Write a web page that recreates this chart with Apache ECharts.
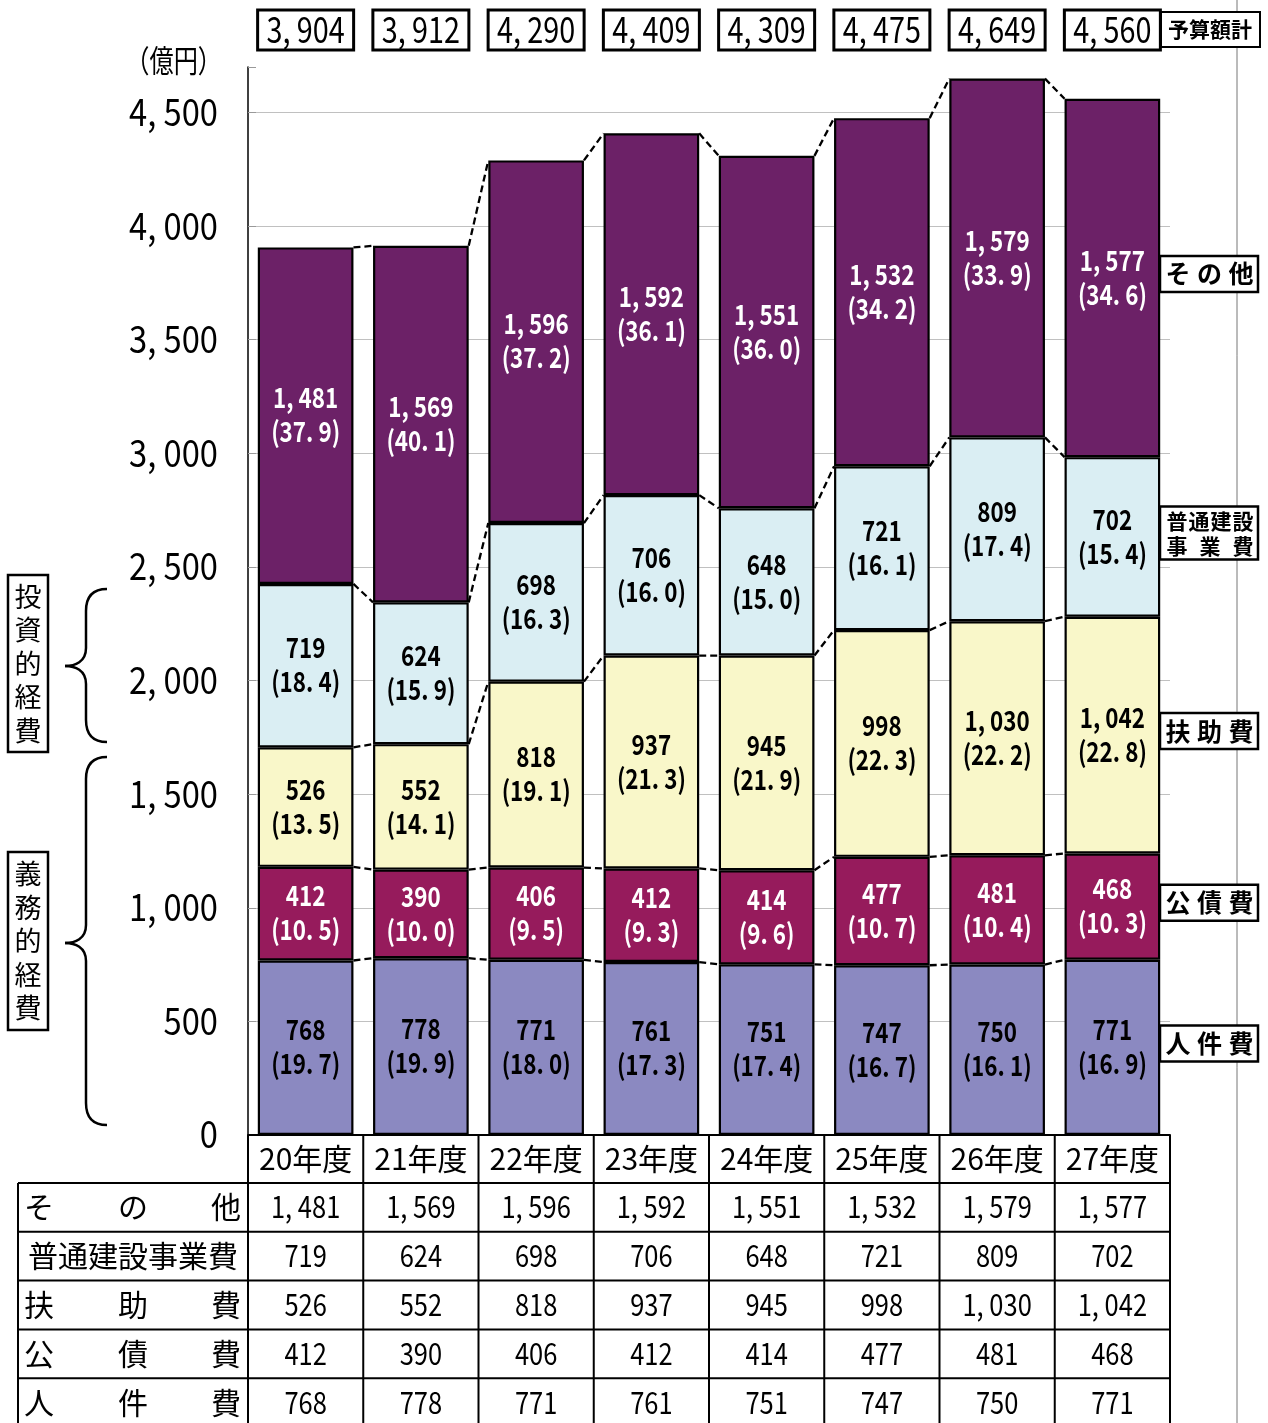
<!DOCTYPE html>
<html><head><meta charset="utf-8">
<script src="https://cdn.jsdelivr.net/npm/echarts@6/dist/echarts.min.js"></script>
<style>html,body{margin:0;padding:0;background:#fff}#c{width:1268px;height:1423px}</style>
</head><body><div id="c"></div>
<script>
const categories = ['20年度','21年度','22年度','23年度','24年度','25年度','26年度','27年度'];
const jinkenhi = [768,778,771,761,751,747,750,771];
const jinkenhiPct = [19.7,19.9,18.0,17.3,17.4,16.7,16.1,16.9];
const kousaihi = [412,390,406,412,414,477,481,468];
const kousaihiPct = [10.5,10.0,9.5,9.3,9.6,10.7,10.4,10.3];
const fujohi = [526,552,818,937,945,998,1030,1042];
const fujohiPct = [13.5,14.1,19.1,21.3,21.9,22.3,22.2,22.8];
const futsuu = [719,624,698,706,648,721,809,702];
const futsuuPct = [18.4,15.9,16.3,16.0,15.0,16.1,17.4,15.4];
const sonota = [1481,1569,1596,1592,1551,1532,1579,1577];
const sonotaPct = [37.9,40.1,37.2,36.1,36.0,34.2,33.9,34.6];
const totals = [3904,3912,4290,4409,4309,4475,4649,4560];
const yTicks = [0,500,1000,1500,2000,2500,3000,3500,4000,4500];
const seriesNames = ['人件費','公債費','扶助費','普通建設事業費','その他'];
const legendChars = [['人','件','費'],['公','債','費'],['扶','助','費'],null,['そ','の','他']];
const tableRowLabels = [['そ','の','他'],['普通建設事業費'],['扶','助','費'],['公','債','費'],['人','件','費']];
const yMax = 4700, yInterval = 500;

const vals = [jinkenhi, kousaihi, fujohi, futsuu, sonota];
const pcts = [jinkenhiPct, kousaihiPct, fujohiPct, futsuuPct, sonotaPct];
const colors = ['#8B89C1','#961B5C','#F9F7C9','#DAEEF3','#6C2167'];
const labelColors = ['#000','#fff','#000','#000','#fff'];
const JFONT = "'Noto Sans CJK JP',sans-serif";
function fmt(v){ const s = String(v); return s.length > 3 ? s.slice(0, s.length-3) + ', ' + s.slice(-3) : s; }
function fmtPct(p){ return '(' + p.toFixed(1).replace('.', '. ') + ')'; }

const cum = [];
let run = categories.map(() => 0);
vals.forEach(a => { run = run.map((r, i) => r + a[i]); cum.push(run.slice()); });
const connData = [];
cum.forEach(c => { for (let i = 0; i < categories.length - 1; i++) connData.push([i, c[i], c[i+1]]); });
const labelData = [];
vals.forEach((a, k) => a.forEach((v, i) => labelData.push([i, (k ? cum[k-1][i] : 0) + v / 2, v, pcts[k][i], k])));
const BW = 0.83;

const chart = echarts.init(document.getElementById('c'));
const series = vals.map((a, k) => ({
  name: seriesNames[k], type: 'bar', stack: 'total', barWidth: (BW*100)+'%', data: a,
  itemStyle: { color: colors[k], borderColor: '#000', borderWidth: 2.2 }
}));
series.push({
  type: 'custom', data: connData, encode: { x: 0, y: 1 }, z: 5, silent: true,
  renderItem: (params, api) => {
    const i = api.value(0);
    const p1 = api.coord([i, api.value(1)]);
    const p2 = api.coord([i + 1, api.value(2)]);
    const hw = api.size([1, 0])[0] * BW / 2;
    return { type: 'line', shape: { x1: p1[0] + hw, y1: p1[1], x2: p2[0] - hw, y2: p2[1] },
      style: { stroke: '#000', lineWidth: 2.3, lineDash: [7, 4] } };
  }
});
series.push({
  type: 'custom', data: labelData, encode: { x: 0, y: 1 }, z: 6, silent: true,
  renderItem: (params, api) => {
    const p = api.coord([api.value(0), api.value(1)]);
    const k = api.value(4);
    return { type: 'text', x: p[0], y: p[1] - 1, scaleX: 0.8,
      style: { text: fmt(api.value(2)) + '\n' + fmtPct(api.value(3)), fill: labelColors[k],
        fontFamily: JFONT, fontWeight: 'bold', fontSize: 28, lineHeight: 34, align: 'center', verticalAlign: 'middle' } };
  }
});

chart.setOption({
  animation: false,
  grid: { left: 248, right: 98, top: 67, bottom: 288 },
  xAxis: { type: 'category', data: categories, axisLabel: { show: false }, axisTick: { show: false },
    axisLine: { lineStyle: { color: '#000', width: 2 } } },
  yAxis: { type: 'value', min: 0, max: yMax, interval: yInterval,
    axisLine: { show: true, lineStyle: { color: '#000', width: 1.5 } },
    axisTick: { show: true, inside: true, length: 8, lineStyle: { color: '#999' } },
    splitLine: { show: true, showMaxLine: false, lineStyle: { color: '#C0C0C0', width: 1 } },
    axisLabel: { show: false } },
  series
});

const g = [];
const cx = categories.map((c, i) => chart.convertToPixel({ xAxisIndex: 0 }, i));
const cw = cx[1] - cx[0];
const yPix = v => chart.convertToPixel({ yAxisIndex: 0 }, v);
const y0 = yPix(0);
const left0 = cx[0] - cw / 2, right0 = cx[cx.length - 1] + cw / 2;
const T = (x, y, text, font, opt) => g.push(Object.assign({ type: 'text', x, y, style: Object.assign({ text, font, fill: '#000', align: 'center', verticalAlign: 'middle' }, (opt && opt.style) || {}) }, (opt && opt.el) || {}));

// right border line
g.push({ type: 'line', shape: { x1: 1237, y1: 0, x2: 1237, y2: 1423 }, style: { stroke: '#777', lineWidth: 1 } });

// y tick labels
yTicks.forEach(v => T(218, yPix(v) - 1, fmt(v), '38px ' + JFONT, { style: { align: 'right' }, el: { scaleX: 0.86 } }));
T(222, 60, '（億円）', '31px ' + JFONT, { style: { align: 'right' }, el: { scaleX: 0.78 } });

// totals boxes
totals.forEach((t, i) => {
  g.push({ type: 'rect', shape: { x: cx[i] - 48, y: 10, width: 96, height: 40 }, style: { fill: '#fff', stroke: '#000', lineWidth: 3 }, z: 10 });
  T(cx[i], 29.5, fmt(t), '36px ' + JFONT, { el: { scaleX: 0.8, z: 11 } });
});
g.push({ type: 'rect', shape: { x: 1161, y: 12, width: 99, height: 35 }, style: { fill: '#fff', stroke: '#000', lineWidth: 2 }, z: 10 });
T(1210, 29.5, '予算額計', 'bold 21px ' + JFONT, { el: { z: 11 } });

// right legend boxes at last bar segment centers
const last = categories.length - 1;
vals.forEach((a, k) => {
  const base = k === 0 ? 0 : cum[k - 1][last];
  const yc = yPix(base + a[last] / 2) - 4;
  const two = !legendChars[k];
  const h = two ? 53 : 36;
  g.push({ type: 'rect', shape: { x: 1160, y: yc - h / 2, width: 98, height: h }, style: { fill: '#fff', stroke: '#000', lineWidth: 2.5 }, z: 10 });
  if (two) {
    ['普','通','建','設'].forEach((ch, j) => T(1177 + j * 22, yc - 12, ch, 'bold 21px ' + JFONT, { el: { z: 11 } }));
    ['事','業','費'].forEach((ch, j) => T(1177 + j * 33, yc + 13, ch, 'bold 21px ' + JFONT, { el: { z: 11 } }));
  } else {
    legendChars[k].forEach((ch, j) => T(1178 + j * 31.5, yc, ch, 'bold 25px ' + JFONT, { el: { z: 11 } }));
  }
});

// braces
function brace(xe, xv, xp, yt, yp, yb) {
  const S = { fill: null, stroke: '#000', lineWidth: 2.5 };
  const r = 22;
  g.push({ type: 'bezierCurve', shape: { x1: xe, y1: yt, cpx1: xv + 6, cpy1: yt, cpx2: xv, cpy2: yt + 8, x2: xv, y2: yt + r }, style: S });
  g.push({ type: 'line', shape: { x1: xv, y1: yt + r, x2: xv, y2: yp - 18 }, style: S });
  g.push({ type: 'bezierCurve', shape: { x1: xv, y1: yp - 18, cpx1: xv, cpy1: yp - 4, cpx2: xp + 10, cpy2: yp, x2: xp, y2: yp }, style: S });
  g.push({ type: 'bezierCurve', shape: { x1: xp, y1: yp, cpx1: xp + 10, cpy1: yp, cpx2: xv, cpy2: yp + 4, x2: xv, y2: yp + 18 }, style: S });
  g.push({ type: 'line', shape: { x1: xv, y1: yp + 18, x2: xv, y2: yb - r }, style: S });
  g.push({ type: 'bezierCurve', shape: { x1: xv, y1: yb - r, cpx1: xv, cpy1: yb - 8, cpx2: xv + 6, cpy2: yb, x2: xe, y2: yb }, style: S });
}
brace(107, 86, 65, 589, 666, 742);
brace(107, 86, 65, 757, 943, 1125);
[['投資的経費', 575, 752], ['義務的経費', 852, 1030]].forEach(([t, ya, yb]) => {
  g.push({ type: 'rect', shape: { x: 8, y: ya, width: 40, height: yb - ya }, style: { fill: '#fff', stroke: '#000', lineWidth: 2.5 } });
  t.split('').forEach((ch, j) => T(28, (ya + yb) / 2 + (j - 2) * 33.5, ch, '27px ' + JFONT));
});

// table
const hdrTop = y0, hdrBot = y0 + 48, rowH = 48.8;
const tblLeft = 18, tblBottom = 1440;
const tableVals = [sonota, futsuu, fujohi, kousaihi, jinkenhi];
const L = (x1, y1, x2, y2) => g.push({ type: 'line', shape: { x1, y1, x2, y2 }, style: { stroke: '#000', lineWidth: 2 }, z: 20 });
L(left0, hdrTop, right0, hdrTop);
for (let r = 0; r < tableVals.length; r++) L(tblLeft, hdrBot + r * rowH, right0, hdrBot + r * rowH);
L(tblLeft, hdrBot, tblLeft, tblBottom);
for (let i = 0; i <= categories.length; i++) { const x = left0 + i * cw; L(x, hdrTop, x, tblBottom); }
categories.forEach((c, i) => T(cx[i], (hdrTop + hdrBot) / 2, c, '30px ' + JFONT, { el: { z: 21 } }));
tableVals.forEach((a, r) => {
  const yc = hdrBot + r * rowH + rowH / 2 - 0.5;
  a.forEach((v, i) => T(cx[i], yc, fmt(v), '30px ' + JFONT, { el: { z: 21, scaleX: 0.85 } }));
  const lab = tableRowLabels[r];
  if (lab.length === 1) {
    T(133, yc, lab[0], '30px ' + JFONT, { el: { z: 21 } });
  } else {
    [39, 133, 226].forEach((x, j) => T(x, yc, lab[j], '30px ' + JFONT, { el: { z: 21 } }));
  }
});

chart.setOption({ graphic: g });
</script></body></html>
